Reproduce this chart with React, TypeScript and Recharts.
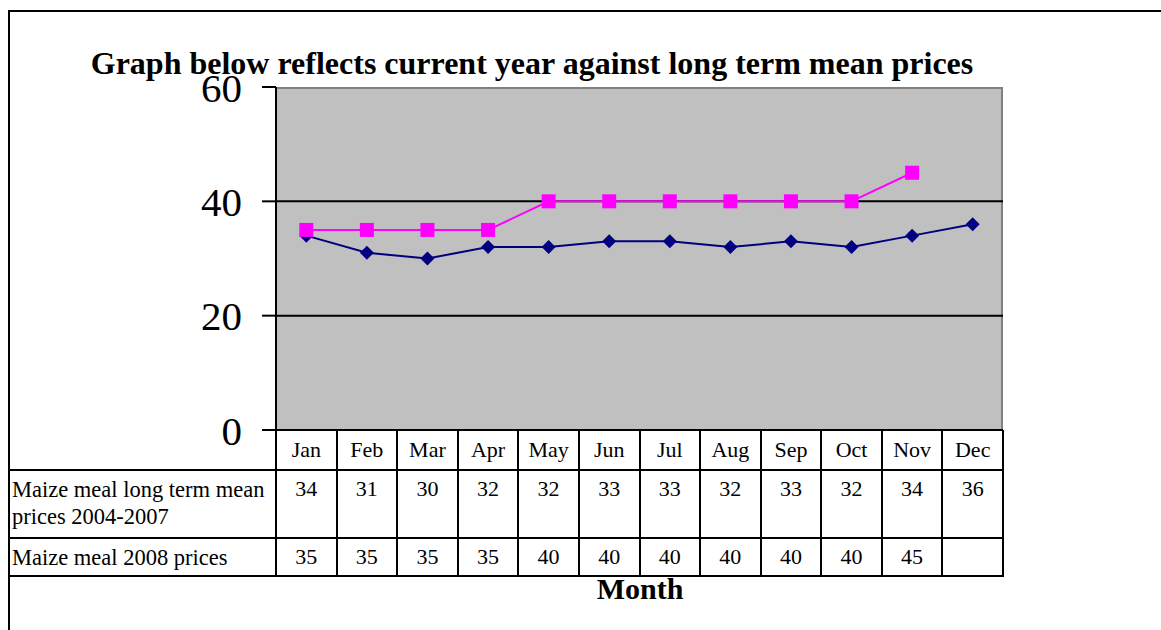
import React from 'react';
import { LineChart, Line, XAxis, YAxis, CartesianGrid, ReferenceLine } from 'recharts';

const months = ['Jan', 'Feb', 'Mar', 'Apr', 'May', 'Jun', 'Jul', 'Aug', 'Sep', 'Oct', 'Nov', 'Dec'];
const longTermMean = [34, 31, 30, 32, 32, 33, 33, 32, 33, 32, 34, 36];
const prices2008: (number | null)[] = [35, 35, 35, 35, 40, 40, 40, 40, 40, 40, 45, null];
const yTicks = [0, 20, 40, 60];
const gridValues = [20, 40];
const seriesNames = ['Maize meal long term mean prices 2004-2007', 'Maize meal 2008 prices'];

const FONT = "'Times New Roman', 'Liberation Serif', serif";
const W = 1161;
const H = 630;
const PLOT_L = 276;
const PLOT_R = 1003;
const PLOT_T = 87;
const PLOT_B = 430;
const COL_W = (PLOT_R - PLOT_L) / months.length;
const ROW_Y = [430, 470, 538, 576];

const data = months.map((m, i) => ({ month: m, mean: longTermMean[i], y2008: prices2008[i] }));

const Diamond = (props: any) => {
  const { cx, cy } = props;
  if (cx == null || cy == null) return null;
  const r = 7;
  return <polygon points={`${cx},${cy - r} ${cx + r},${cy} ${cx},${cy + r} ${cx - r},${cy}`} fill="#000080" />;
};

const Square = (props: any) => {
  const { cx, cy, value } = props;
  if (cx == null || cy == null || value == null) return null;
  return <rect x={cx - 7} y={cy - 7} width={14} height={14} fill="#ff00ff" />;
};

const hLine = (y: number, x1: number, x2: number, key: string) => (
  <div key={key} style={{ position: 'absolute', left: x1, top: y - 1, width: x2 - x1, height: 2, background: '#000' }} />
);
const vLine = (x: number, y1: number, y2: number, key: string) => (
  <div key={key} style={{ position: 'absolute', left: x - 1, top: y1, width: 2, height: y2 - y1, background: '#000' }} />
);

export default function App() {
  const rows = [longTermMean, prices2008];
  return (
    <div style={{ position: 'absolute', left: 0, top: 0, width: W, height: H, background: '#fff', fontFamily: FONT, overflow: 'hidden' }}>
      <div style={{ position: 'absolute', left: 8, top: 10, width: W, height: H, borderLeft: '2px solid #000', borderTop: '2px solid #000' }} />
      <LineChart
        width={W}
        height={H}
        data={data}
        margin={{ top: PLOT_T, right: W - PLOT_R, left: PLOT_L - 100, bottom: H - PLOT_B - 20 }}
        style={{ position: 'absolute', left: 0, top: 0 }}
      >
        {/* grey plot background with its grey frame (top and right edges) */}
        <CartesianGrid
          fill="#c0c0c0"
          fillOpacity={1}
          stroke="#808080"
          strokeWidth={2}
          horizontalPoints={[PLOT_T + 1]}
          verticalPoints={[PLOT_R - 1]}
        />
        {gridValues.map((v) => (
          <ReferenceLine key={v} y={v} stroke="#000" strokeWidth={2} />
        ))}
        <XAxis
          dataKey="month"
          height={20}
          padding={{ left: COL_W / 2, right: COL_W / 2 }}
          tick={false}
          tickLine={false}
          axisLine={{ stroke: '#000', strokeWidth: 2 }}
        />
        <YAxis
          width={100}
          domain={[0, 60]}
          ticks={yTicks}
          interval={0}
          tickSize={14}
          tickMargin={20}
          axisLine={{ stroke: '#000', strokeWidth: 2 }}
          tickLine={{ stroke: '#000', strokeWidth: 2 }}
          tick={{ fill: '#000', fontSize: 41, fontFamily: FONT }}
        />
        <Line
          dataKey="mean"
          name={seriesNames[0]}
          stroke="#000080"
          strokeWidth={2}
          dot={<Diamond />}
          activeDot={false}
          isAnimationActive={false}
        />
        <Line
          dataKey="y2008"
          name={seriesNames[1]}
          stroke="#ff00ff"
          strokeWidth={2}
          dot={<Square />}
          activeDot={false}
          connectNulls={false}
          isAnimationActive={false}
        />
      </LineChart>

      <div style={{ position: 'absolute', left: 0, width: 1064, top: 44, textAlign: 'center', fontWeight: 'bold', fontSize: 32, lineHeight: '38px' }}>
        Graph below reflects current year against long term mean prices
      </div>

      {/* data table under the plot */}
      {hLine(ROW_Y[1], 9, PLOT_R + 1, 'h1')}
      {hLine(ROW_Y[2], 9, PLOT_R + 1, 'h2')}
      {hLine(ROW_Y[3], 9, PLOT_R + 1, 'h3')}
      {months.map((_, i) => vLine(PLOT_L + i * COL_W, ROW_Y[0], ROW_Y[3] + 1, 'v' + i))}
      {vLine(PLOT_R, ROW_Y[0], ROW_Y[3] + 1, 'vend')}
      {months.map((m, i) => (
        <div key={m} style={{ position: 'absolute', left: PLOT_L + i * COL_W, width: COL_W, top: ROW_Y[0] + 6, textAlign: 'center', fontSize: 22, lineHeight: '27px' }}>
          {m}
        </div>
      ))}
      {rows.map((vals, r) => (
        <React.Fragment key={r}>
          <div style={{ position: 'absolute', left: 12, width: 262, top: ROW_Y[r + 1] + 6, fontSize: 22.5, lineHeight: '27px' }}>
            {seriesNames[r]}
          </div>
          {vals.map((v, i) => (
            <div key={i} style={{ position: 'absolute', left: PLOT_L + i * COL_W, width: COL_W, top: ROW_Y[r + 1] + 5, textAlign: 'center', fontSize: 22, lineHeight: '27px' }}>
              {v == null ? '' : v}
            </div>
          ))}
        </React.Fragment>
      ))}

      <div style={{ position: 'absolute', left: PLOT_L, width: PLOT_R - PLOT_L + 2 * (640 - (PLOT_L + PLOT_R) / 2), top: 571, textAlign: 'center', fontWeight: 'bold', fontSize: 30, lineHeight: '36px' }}>
        Month
      </div>
    </div>
  );
}
